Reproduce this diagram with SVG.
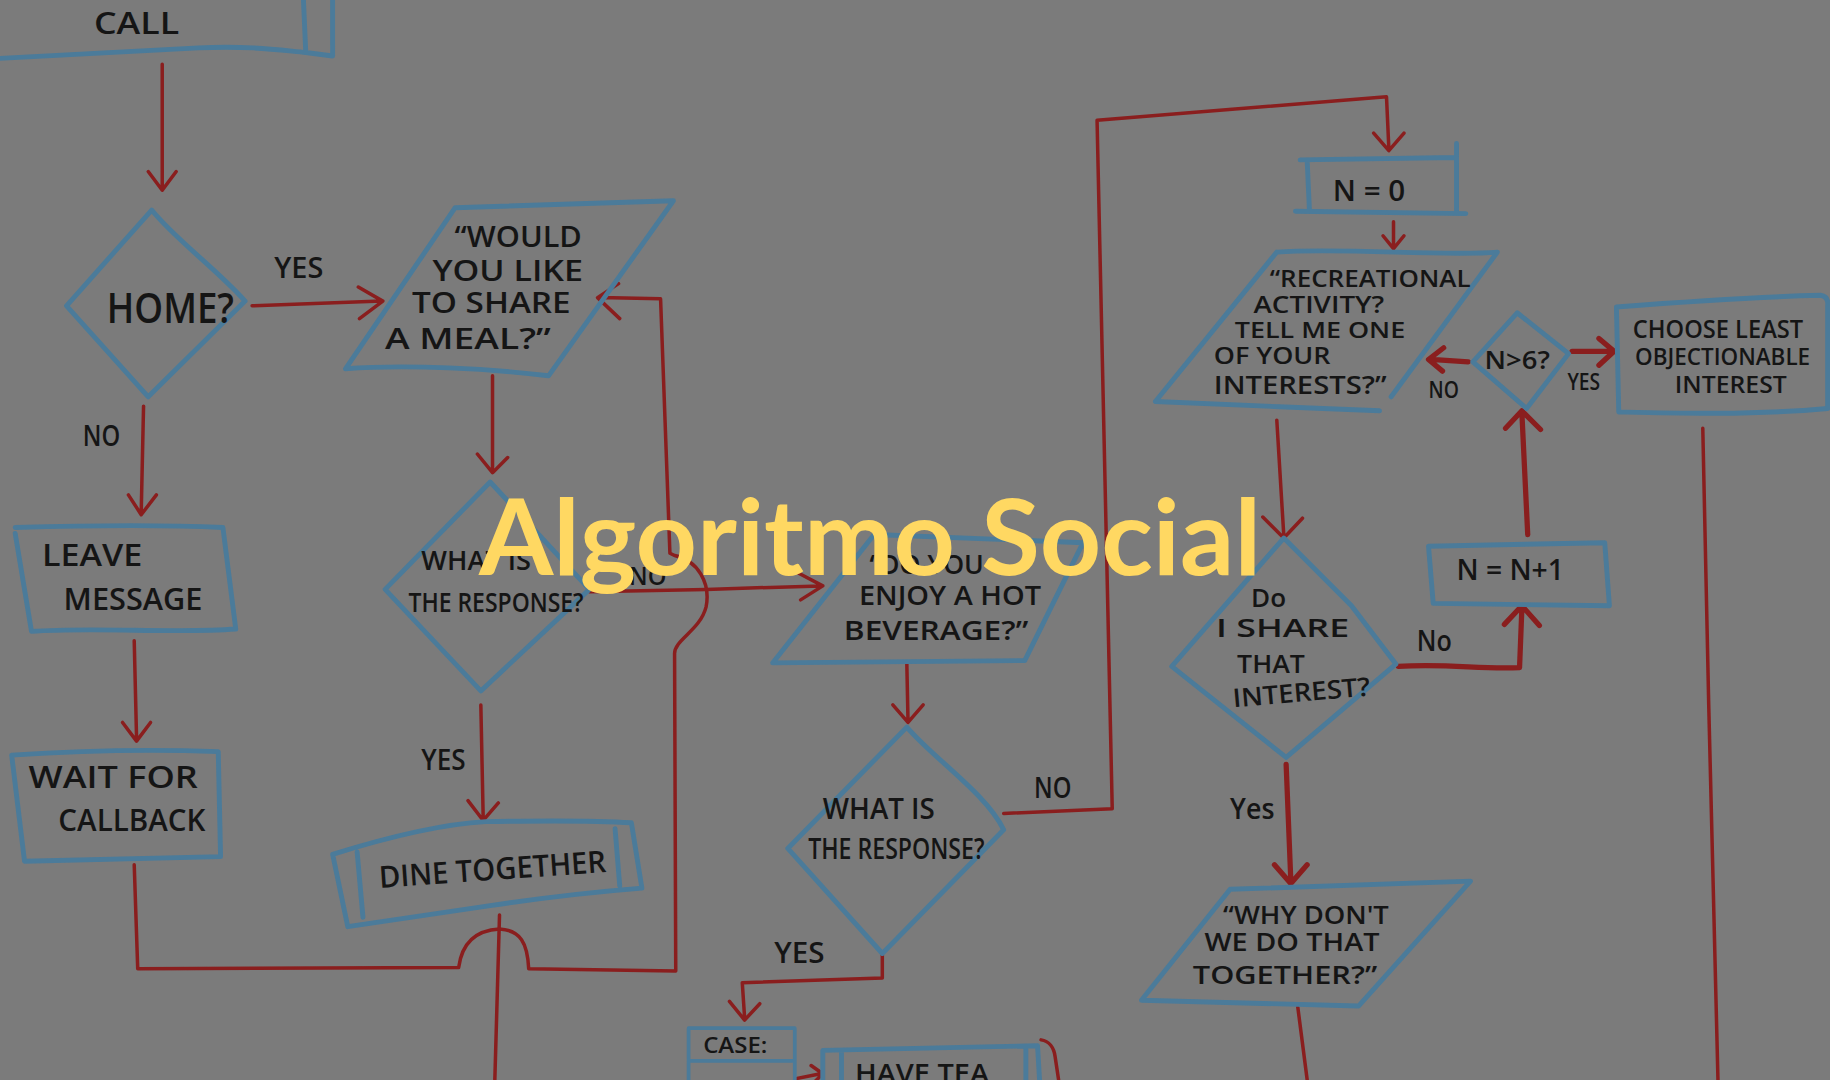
<svg xmlns="http://www.w3.org/2000/svg" width="1830" height="1080" viewBox="0 0 1830 1080">
<style>
.shape{fill:none;stroke:#4b7b9a;stroke-width:4.2;stroke-linejoin:round;stroke-linecap:round}
.thin{stroke-width:3.2}
.edge{fill:none;stroke:#8a1e1e;stroke-width:3;stroke-linejoin:round;stroke-linecap:round}
.bold{stroke-width:4.5}
.t{font-family:"Open Sans","Liberation Sans",sans-serif;font-weight:600;fill:#151515;text-anchor:middle}
.title{font-family:Lato,"Open Sans",sans-serif;font-weight:700;fill:#ffd862;text-anchor:middle}
</style>
<rect x="0" y="0" width="1830" height="1080" fill="#7b7b7b"/>
<g transform="scale(1.16709)">
<g id="connectors">
<path class="edge" d="M139,55 L139,162 M127,147 L139,163 L151,147"/>
<path class="edge" d="M216,262 L327,258 M307,246 L328,258 L308,273"/>
<path class="edge" d="M123,348 L121,439 M110,424 L121,441 L134,424"/>
<path class="edge" d="M115,549 L117,632 M105,619 L117,635 L129,619"/>
<path class="edge" d="M115,741 L118,830 L393,829 C396,806 410,797 428,796 C446,797 452,808 453,830 L579,832 L578,560 C578,548 600,540 605,520 C609,500 598,480 578,476 L574,474 L566,256 L514,255 M530,243 L512,255 L531,273"/>
<path class="edge" d="M422,322 L422,403 M409,389 L422,405 L435,392"/>
<path class="edge" d="M412,604 L414,700 M401,686 L414,703 L427,688"/>
<path class="edge" d="M505,507 L605,505 L703,502 M684,491 L705,502 L686,514"/>
<path class="edge" d="M428,784 L424,925"/>
<path class="edge" d="M777,569 L778,617 M765,604 L778,619 L791,604"/>
<path class="edge" d="M860,697 L953,693 L940,103 L1188,83 L1190,127 M1177,114 L1190,129 L1203,114"/>
<path class="edge" d="M756,818 L756,838 L636,842 L638,872 M625,858 L638,874 L651,860"/>
<path class="edge" d="M683,924 L703,920 M695,913 L705,920 L697,928"/>
<path class="edge" d="M892,891 C899,892 903,898 904,905 L907,925"/>
<path class="edge" d="M1194,190 L1194,211 M1185,202 L1194,213 L1203,202"/>
<path class="edge" d="M1094,360 L1100,459 M1082,443 L1100,461 L1116,444"/>
<path class="edge bold" d="M1198,571 C1240,568 1270,574 1302,572 L1304,521 M1289,535 L1304,519 L1319,536"/>
<path class="edge bold" d="M1309,458 L1304,354 M1290,367 L1304,352 L1320,368"/>
<path class="edge bold" d="M1258,310 L1226,308 M1237,298 L1224,308 L1236,318"/>
<path class="edge bold" d="M1347,301 L1382,301 M1370,290 L1383,301 L1370,313"/>
<path class="edge" d="M1459,367 L1464,600 L1472,925"/>
<path class="edge bold" d="M1102,655 L1106,754 M1092,741 L1106,757 L1120,741"/>
<path class="edge" d="M1112,863 L1120,925"/>
</g>
<g id="labels">
<text class="t" x="256" y="238" font-size="24" textLength="42" lengthAdjust="spacingAndGlyphs">YES</text>
<text class="t" x="87" y="382" font-size="24" textLength="32" lengthAdjust="spacingAndGlyphs">NO</text>
<text class="t" x="380" y="660" font-size="24" textLength="38" lengthAdjust="spacingAndGlyphs">YES</text>
<text class="t" x="555" y="501" font-size="22" textLength="32" lengthAdjust="spacingAndGlyphs">NO</text>
<text class="t" x="902" y="684" font-size="24" textLength="32" lengthAdjust="spacingAndGlyphs">NO</text>
<text class="t" x="685" y="825" font-size="24" textLength="43" lengthAdjust="spacingAndGlyphs">YES</text>
<text class="t" x="1237" y="341" font-size="20" textLength="26" lengthAdjust="spacingAndGlyphs">NO</text>
<text class="t" x="1357" y="334" font-size="20" textLength="28" lengthAdjust="spacingAndGlyphs">YES</text>
<text class="t" x="1229" y="558" font-size="24" textLength="30" lengthAdjust="spacingAndGlyphs">No</text>
<text class="t" x="1073" y="702" font-size="24" textLength="38" lengthAdjust="spacingAndGlyphs">Yes</text>
</g>
<g id="n-call">
<path class="shape" d="M0,50 C60,47 110,44 170,41 C215,39 240,43 262,45 L285,48 M260,0 L262,45 M285,0 L285,48"/>
<text class="t" x="117" y="29" font-size="27" textLength="73" lengthAdjust="spacingAndGlyphs">CALL</text>
</g>
<g id="n-home">
<path class="shape" d="M130,180 C150,205 185,230 210,258 L127,340 L57,262 Z"/>
<text class="t" x="146" y="277" font-size="36" textLength="109" lengthAdjust="spacingAndGlyphs">HOME?</text>
</g>
<g id="n-meal">
<path class="shape" d="M390,178 L577,172 L470,322 C420,316 350,312 296,316 Z"/>
<text class="t" x="444" y="212" font-size="24" textLength="109" lengthAdjust="spacingAndGlyphs">“WOULD</text>
<text class="t" x="435" y="241" font-size="24" textLength="129" lengthAdjust="spacingAndGlyphs">YOU LIKE</text>
<text class="t" x="421" y="268" font-size="24" textLength="136" lengthAdjust="spacingAndGlyphs">TO SHARE</text>
<text class="t" x="401" y="299" font-size="24" textLength="142" lengthAdjust="spacingAndGlyphs">A MEAL?”</text>
</g>
<g id="n-leave">
<path class="shape" d="M13,452 C80,450 150,450 191,452 L202,539 C150,543 80,537 27,541 L13,457"/>
<text class="t" x="79" y="485" font-size="27" textLength="86" lengthAdjust="spacingAndGlyphs">LEAVE</text>
<text class="t" x="114" y="523" font-size="27" textLength="119" lengthAdjust="spacingAndGlyphs">MESSAGE</text>
</g>
<g id="n-wait">
<path class="shape" d="M10,647 C70,643 130,642 187,644 L189,734 L21,738 Z"/>
<text class="t" x="97" y="675" font-size="27" textLength="145" lengthAdjust="spacingAndGlyphs">WAIT FOR</text>
<text class="t" x="113" y="712" font-size="27" textLength="126" lengthAdjust="spacingAndGlyphs">CALLBACK</text>
</g>
<g id="n-response1">
<path class="shape" d="M420,413 L505,505 L412,592 L330,505 Z"/>
<text class="t" x="408" y="488" font-size="23" textLength="94" lengthAdjust="spacingAndGlyphs">WHAT IS</text>
<text class="t" x="425" y="524" font-size="23" textLength="150" lengthAdjust="spacingAndGlyphs">THE RESPONSE?</text>
</g>
<g id="n-dine">
<path class="shape" d="M285,732 C330,718 380,706 416,704 C470,703 510,703 541,705 L550,761 C500,765 460,770 420,776 C380,782 340,788 298,794 Z M306,730 L311,786 M527,710 L531,759"/>
<text class="t" x="422" y="754" font-size="26" textLength="195" lengthAdjust="spacingAndGlyphs" transform="rotate(-4 422 746)">DINE TOGETHER</text>
</g>
<g id="n-beverage">
<path class="shape" d="M749,458 L928,465 L878,566 L662,568 Z"/>
<text class="t" x="794" y="492" font-size="23" textLength="98" lengthAdjust="spacingAndGlyphs">“DO YOU</text>
<text class="t" x="814" y="518" font-size="23" textLength="156" lengthAdjust="spacingAndGlyphs">ENJOY A HOT</text>
<text class="t" x="802" y="548" font-size="23" textLength="158" lengthAdjust="spacingAndGlyphs">BEVERAGE?”</text>
</g>
<g id="n-response2">
<path class="shape" d="M777,623 C800,650 845,680 860,711 L756,817 L675,727 Z"/>
<text class="t" x="753" y="702" font-size="24" textLength="96" lengthAdjust="spacingAndGlyphs">WHAT IS</text>
<text class="t" x="768" y="736" font-size="24" textLength="151" lengthAdjust="spacingAndGlyphs">THE RESPONSE?</text>
</g>
<g id="n-case">
<path class="shape thin" d="M590,930 L590,881 L681,881 L681,930 M590,909 L681,909"/>
<text class="t" x="630" y="902" font-size="19" textLength="55" lengthAdjust="spacingAndGlyphs">CASE:</text>
<text class="t" x="622" y="939" font-size="19" textLength="41" lengthAdjust="spacingAndGlyphs">TEA</text>
</g>
<g id="n-havetea">
<path class="shape" d="M705,930 L705,900 L889,896 L891,930 M721,930 L721,902 M879,930 L879,898"/>
<text class="t" x="790" y="928" font-size="23" textLength="115" lengthAdjust="spacingAndGlyphs">HAVE TEA</text>
</g>
<g id="n-n0">
<path class="shape" d="M1114,137 L1246,135 M1120,137 L1122,181 M1248,123 L1248,183 M1110,181 L1256,183"/>
<text class="t" x="1173" y="172" font-size="25" textLength="62" lengthAdjust="spacingAndGlyphs">N = 0</text>
</g>
<g id="n-recreational">
<path class="shape" d="M1094,216 C1150,212 1240,220 1283,216 L1192,340 M990,344 C1050,346 1120,350 1182,352 M990,344 L1094,216"/>
<text class="t" x="1174" y="246" font-size="20" textLength="172" lengthAdjust="spacingAndGlyphs">“RECREATIONAL</text>
<text class="t" x="1130" y="268" font-size="20" textLength="112" lengthAdjust="spacingAndGlyphs">ACTIVITY?</text>
<text class="t" x="1131" y="290" font-size="18" textLength="146" lengthAdjust="spacingAndGlyphs">TELL ME ONE</text>
<text class="t" x="1090" y="312" font-size="20" textLength="100" lengthAdjust="spacingAndGlyphs">OF YOUR</text>
<text class="t" x="1114" y="338" font-size="22" textLength="148" lengthAdjust="spacingAndGlyphs">INTERESTS?”</text>
</g>
<g id="n-ngt6">
<path class="shape" d="M1300,268 L1344,303 L1308,350 L1262,310 Z"/>
<text class="t" x="1300" y="316" font-size="22" textLength="56" lengthAdjust="spacingAndGlyphs">N&gt;6?</text>
</g>
<g id="n-choose">
<path class="shape" d="M1385,263 C1450,258 1520,254 1560,253 Q1567,254 1566,262 L1566,350 C1500,356 1430,354 1387,353 Z"/>
<text class="t" x="1472" y="290" font-size="21" textLength="146" lengthAdjust="spacingAndGlyphs">CHOOSE LEAST</text>
<text class="t" x="1476" y="313" font-size="20" textLength="150" lengthAdjust="spacingAndGlyphs">OBJECTIONABLE</text>
<text class="t" x="1483" y="337" font-size="20" textLength="96" lengthAdjust="spacingAndGlyphs">INTEREST</text>
</g>
<g id="n-doishare">
<path class="shape" d="M1100,461 L1158,519 L1196,569 L1102,649 L1004,571 Z"/>
<text class="t" x="1087" y="520" font-size="22" textLength="30" lengthAdjust="spacingAndGlyphs">Do</text>
<text class="t" x="1099" y="546" font-size="22" textLength="114" lengthAdjust="spacingAndGlyphs">I SHARE</text>
<text class="t" x="1089" y="577" font-size="22" textLength="58" lengthAdjust="spacingAndGlyphs">THAT</text>
<text class="t" x="1115" y="601" font-size="22" textLength="118" lengthAdjust="spacingAndGlyphs" transform="rotate(-5 1115 593)">INTEREST?</text>
</g>
<g id="n-nplus1">
<path class="shape" d="M1224,468 L1375,465 L1379,519 L1228,517 Z"/>
<text class="t" x="1294" y="497" font-size="24" textLength="92" lengthAdjust="spacingAndGlyphs">N = N+1</text>
</g>
<g id="n-whydont">
<path class="shape" d="M1054,762 L1260,755 L1164,862 L978,857 Z"/>
<text class="t" x="1119" y="792" font-size="21" textLength="142" lengthAdjust="spacingAndGlyphs">“WHY DON'T</text>
<text class="t" x="1107" y="815" font-size="21" textLength="150" lengthAdjust="spacingAndGlyphs">WE DO THAT</text>
<text class="t" x="1101" y="843" font-size="21" textLength="158" lengthAdjust="spacingAndGlyphs">TOGETHER?”</text>
</g>
</g>
<text class="title" x="870" y="575" font-size="106" textLength="782" lengthAdjust="spacingAndGlyphs">Algoritmo Social</text>
</svg>
